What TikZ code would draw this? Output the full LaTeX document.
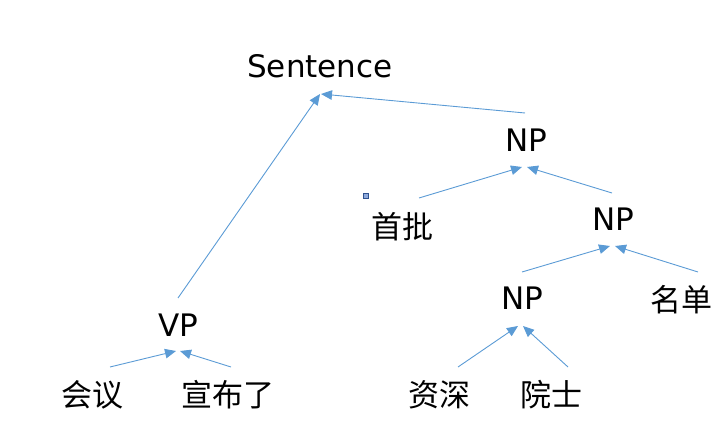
\documentclass[tikz,border=0pt]{standalone}
\usepackage{fontspec}
\setmainfont{DejaVu Sans}
\newfontfamily\cjk{Noto Sans CJK SC}
\usetikzlibrary{arrows.meta}
\definecolor{edgeblue}{RGB}{91,155,213}
\definecolor{sqfill}{RGB}{143,170,220}
\definecolor{sqline}{RGB}{47,82,143}
\begin{document}
\begin{tikzpicture}[x=1pt,y=-1pt,
  lbl/.style={font=\fontsize{31}{36}\selectfont, inner sep=0pt, anchor=base},
  zh/.style={font=\cjk\fontsize{31}{36}\selectfont, inner sep=0pt},
  edge/.style={draw=edgeblue, line width=0.9pt, -{Triangle[length=11pt,width=9.5pt]}}]
\useasboundingbox (0,0) rectangle (720,427);
% labels
\node[lbl] (S) at (320,78) {Sentence};
\node[lbl] (NP1) at (526,152) {NP};
\node[lbl] (NP2) at (613,231) {NP};
\node[lbl] (NP3) at (522,310) {NP};
\node[lbl] (VP) at (178,337) {VP};
\node[zh] (w1) at (402,227) {首批};
\node[zh] (w2) at (681,300) {名单};
\node[zh] (w3) at (92,395) {会议};
\node[zh] (w4) at (228,395) {宣布了};
\node[zh] (w5) at (439,395) {资深};
\node[zh] (w6) at (551,395) {院士};
% stray handle square
\node[draw=sqline, fill=sqfill, line width=0.8pt, minimum size=5pt, inner sep=0pt] (sq) at (365.5,195.5) {};
% connector end points
\coordinate (vpS) at (178,298);   \coordinate (tS1) at (320,94);
\coordinate (np1S) at (525,113);  \coordinate (tS2) at (321,94);
\coordinate (w1s) at (419,198);   \coordinate (tN1a) at (522,167);
\coordinate (np2s) at (612,193);  \coordinate (tN1b) at (527,167);
\coordinate (np3s) at (522,272);  \coordinate (tN2a) at (610,246);
\coordinate (w2s) at (698,272);   \coordinate (tN2b) at (615,246);
\coordinate (w3s) at (110,367);   \coordinate (tVa) at (176,351);
\coordinate (w4s) at (231,367);   \coordinate (tVb) at (180,351);
\coordinate (w5s) at (458,367);   \coordinate (tN3a) at (518,326);
\coordinate (w6s) at (568,367);   \coordinate (tN3b) at (523,326);
% connectors
\draw[edge] (vpS) -- (tS1);
\draw[edge] (np1S) -- (tS2);
\draw[edge] (w1s) -- (tN1a);
\draw[edge] (np2s) -- (tN1b);
\draw[edge] (np3s) -- (tN2a);
\draw[edge] (w2s) -- (tN2b);
\draw[edge] (w3s) -- (tVa);
\draw[edge] (w4s) -- (tVb);
\draw[edge] (w5s) -- (tN3a);
\draw[edge] (w6s) -- (tN3b);
\end{tikzpicture}
\end{document}
